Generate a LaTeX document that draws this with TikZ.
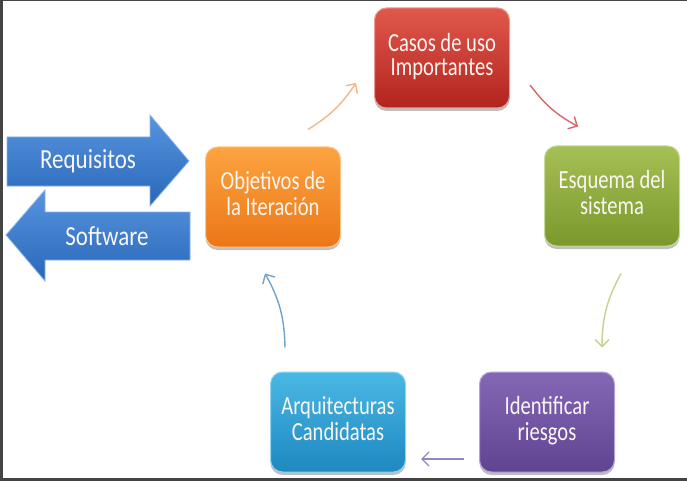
\documentclass[tikz,border=0pt]{standalone}
\usepackage{fontspec}
\setmainfont{Carlito}
\usetikzlibrary{arrows.meta,shadows,calc}
\definecolor{frame}{RGB}{68,68,68}
\definecolor{redT}{RGB}{224,88,76}\definecolor{redB}{RGB}{178,36,30}
\definecolor{grnT}{RGB}{165,192,84}\definecolor{grnB}{RGB}{122,152,44}
\definecolor{purT}{RGB}{132,104,182}\definecolor{purB}{RGB}{96,68,146}
\definecolor{bluT}{RGB}{74,184,228}\definecolor{bluB}{RGB}{30,136,192}
\definecolor{orgT}{RGB}{252,164,64}\definecolor{orgB}{RGB}{236,118,22}
\definecolor{arT}{RGB}{88,148,222}\definecolor{arB}{RGB}{40,104,186}
\definecolor{cOrg}{RGB}{246,182,132}
\definecolor{cRed}{RGB}{212,104,112}
\definecolor{cGrn}{RGB}{196,210,142}
\definecolor{cPur}{RGB}{142,136,202}
\definecolor{cBlu}{RGB}{112,162,202}
\definecolor{txtW}{RGB}{250,246,244}
\newcommand{\boxlbl}[1]{\scalebox{1}[1.27]{\fontsize{20.6}{19}\selectfont\begin{tabular}{@{}c@{}}#1\end{tabular}}}
\newcommand{\arrlbl}[1]{\scalebox{1}[1.2]{\fontsize{23}{26}\selectfont #1}}
\tikzset{
  procbox/.style 2 args={rounded corners=12pt, minimum width=135pt, minimum height=100pt,
    inner sep=0pt, text=txtW, top color=#1, bottom color=#2, draw=#1!60!white, line width=1pt,
    drop shadow={shadow xshift=0pt, shadow yshift=-3pt, opacity=0.25, fill=black}},
  conn/.style={line width=1.4pt, -{Straight Barb[length=7pt,width=14pt]}},
  bigarrow/.style={top color=arT, bottom color=arB, draw=arT!70!white, line width=0.8pt},
  arrtxt/.style={text=txtW, inner sep=0pt}
}
\begin{document}
\begin{tikzpicture}[x=1pt,y=-1pt]
\useasboundingbox (0,0) rectangle (687,481);
\fill[white] (0,0) rectangle (687,481);
\fill[frame] (0,0) rectangle (2.5,481);
\fill[frame] (0,0) rectangle (687,1.5);
\fill[frame] (0,478) rectangle (687,481);

% big arrows
\path[bigarrow] (7,137) -- (150,137) -- (150,115) -- (189,161) -- (150,206) -- (150,186) -- (7,186) -- cycle;
\path[bigarrow] (190,212) -- (45,212) -- (45,190) -- (6,235) -- (45,281) -- (45,260) -- (190,260) -- cycle;
\node[arrtxt] (req) at (88,161) {\arrlbl{Requisitos}};
\node[arrtxt] (sw) at (107,236) {\arrlbl{Software}};

% boxes
\node[procbox={redT}{redB}] (casos) at (442,58) {\boxlbl{Casos de uso\\Importantes}};
\node[procbox={grnT}{grnB}] (esquema) at (612,196) {\boxlbl{Esquema del\\sistema}};
\node[procbox={purT}{purB}] (ident) at (547,422) {\boxlbl{Identificar\\riesgos}};
\node[procbox={bluT}{bluB}] (arq) at (338,422) {\boxlbl{Arquitecturas\\Candidatas}};
\node[procbox={orgT}{orgB}] (obj) at (273,197) {\boxlbl{Objetivos de\\la Iteración}};

% connector end points
\coordinate (c1s) at ($(obj.north)+(35,-17)$);
\coordinate (c1e) at ($(casos.west)+(-18,25)$);
\coordinate (c2s) at ($(casos.east)+(20,27)$);
\coordinate (c2e) at ($(esquema.north)+(-34,-19)$);
\coordinate (c3s) at ($(esquema.south)+(9,27)$);
\coordinate (c3e) at ($(ident.north)+(55,-24)$);
\coordinate (c4s) at ($(ident.west)+(-15,37)$);
\coordinate (c4e) at ($(arq.east)+(15,37)$);
\coordinate (c5s) at ($(arq.north)+(-53,-24)$);
\coordinate (c5e) at ($(obj.south)+(-8,26)$);

\draw[conn, cOrg] (c1s) to[bend right=12] (c1e);
\draw[conn, cRed] (c2s) to[bend right=12] (c2e);
\draw[conn, cGrn] (c3s) to[bend right=14] (c3e);
\draw[conn, cPur] (c4s) -- (c4e);
\draw[conn, cBlu] (c5s) to[bend right=14] (c5e);
\end{tikzpicture}
\end{document}
